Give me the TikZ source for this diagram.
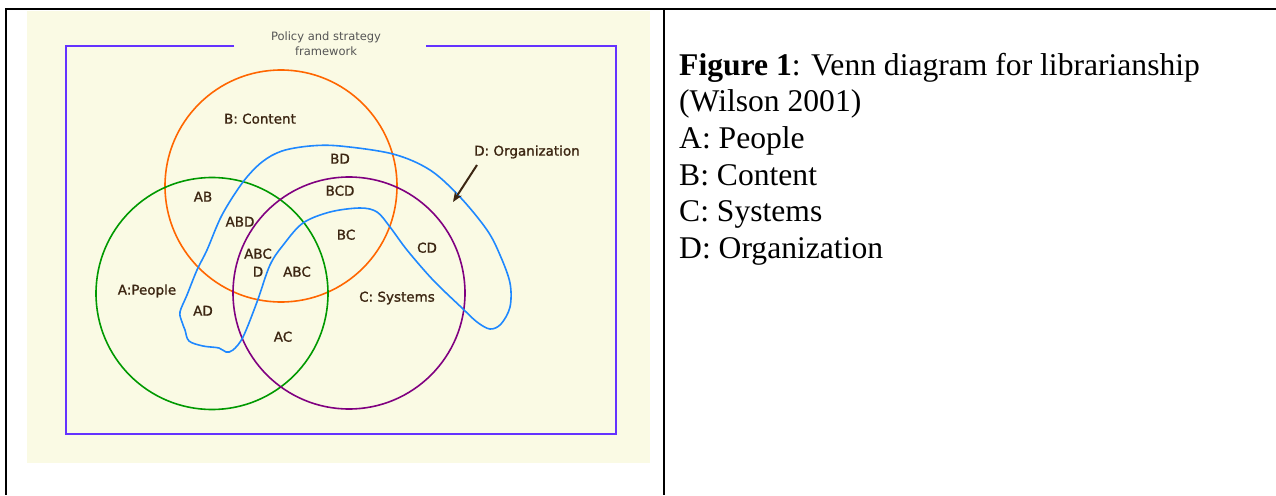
\documentclass[tikz,border=0pt]{standalone}
\usepackage{fontspec}
\setmainfont{Liberation Serif}
\newfontfamily\vennfont[FakeBold=1.2]{DejaVu Sans}
\newfontfamily\titlefont{DejaVu Sans}
\usetikzlibrary{arrows.meta}

\definecolor{cream}{RGB}{250,250,228}
\definecolor{framecol}{RGB}{100,50,255}
\definecolor{ringB}{RGB}{255,102,0}
\definecolor{ringA}{RGB}{0,153,0}
\definecolor{ringC}{RGB}{128,0,128}
\definecolor{ringD}{RGB}{30,136,255}
\definecolor{labelbrown}{RGB}{60,38,18}
\definecolor{titlegray}{RGB}{85,85,85}

\begin{document}
\begin{tikzpicture}[x=1pt,y=-1pt,
    lbl/.style={font=\vennfont\fontsize{13.5}{16}\selectfont,text=labelbrown,
                inner sep=0pt,text height=0.73em,text depth=0pt},
    ring/.style={line width=1.6pt},
    capline/.style={anchor=base west,inner sep=0pt,font=\fontsize{31.6}{36.7}\selectfont}]
    \useasboundingbox (0,0) rectangle (1276,495);

    % table rules
    \draw [line width=2pt] (1276,9) -- (6,9) -- (6,495);
    \draw [line width=2pt] (664,9) -- (664,495);

    % picture
    \fill [cream] (27,11) rectangle (650,463);
    \draw [framecol,line width=2pt] (234,46) -- (66,46) -- (66,434) -- (616,434) -- (616,46) -- (426,46);
    \node [font=\titlefont\fontsize{11.5}{15}\selectfont,text=titlegray,align=center,inner sep=0pt]
        (frametitle) at (326,43.5) {Policy and strategy\\framework};

    \draw [ring,ringB] (281,186) circle [radius=116pt];
    \draw [ring,ringA] (212,293.5) circle [radius=116pt];
    \draw [ring,ringC] (349,293) circle [radius=116pt];

    \draw [ring,ringD] plot [smooth cycle,tension=0.55] coordinates {
        (197,270) (207,250) (222,215) (243,182) (262,162) (282,151) (310,146)
        (340,146) (393,154) (430,170) (460,197) (487,230) (500,255) (510,283)
        (510,307) (501,324) (490,329) (477,322) (462,308) (433,280) (407,250)
        (390,227) (377,212) (360,208) (330,212) (303,223) (284,244) (270,265)
        (257,302) (243,337) (233,350) (226,352) (219,348) (203,346) (189,341)
        (185,330) (182,322) (180,312) (187,295)};

    % labels
    \node [lbl] (lblB)   at (260,120) {B: Content};
    \node [lbl] (lblD)   at (527,152) {D: Organization};
    \node [lbl] (lblBD)  at (340,160) {BD};
    \node [lbl] (lblBCD) at (340,192) {BCD};
    \node [lbl] (lblAB)  at (203,198) {AB};
    \node [lbl] (lblABD) at (240,223) {ABD};
    \node [lbl] (lblBC)  at (346,236) {BC};
    \node [lbl] (lblCD)  at (427,249) {CD};
    \node [lbl] (lblABCa) at (258,255) {ABC};
    \node [lbl] (lblABCb) at (258,273) {D};
    \node [lbl] (lblABC) at (297,273) {ABC};
    \node [lbl] (lblA)   at (147,291) {A:People};
    \node [lbl] (lblC)   at (397,298) {C: Systems};
    \node [lbl] (lblAD)  at (203,312) {AD};
    \node [lbl] (lblAC)  at (283,338) {AC};

    \coordinate (dfrom) at (477,165);
    \coordinate (dtip)  at (453,202);
    \draw [labelbrown,line width=2pt,-{Stealth[length=10pt,width=8pt]}] (dfrom) -- (dtip);

    % caption
    \foreach \txt [count=\i from 0] in {{\textbf{Figure 1}: Venn diagram for librarianship},
            (Wilson 2001),A: People,B: Content,C: Systems,D: Organization}{%
        \node [capline] (cap\i) at (679,{75+36.7*\i}) {\txt};
    }
\end{tikzpicture}
\end{document}
